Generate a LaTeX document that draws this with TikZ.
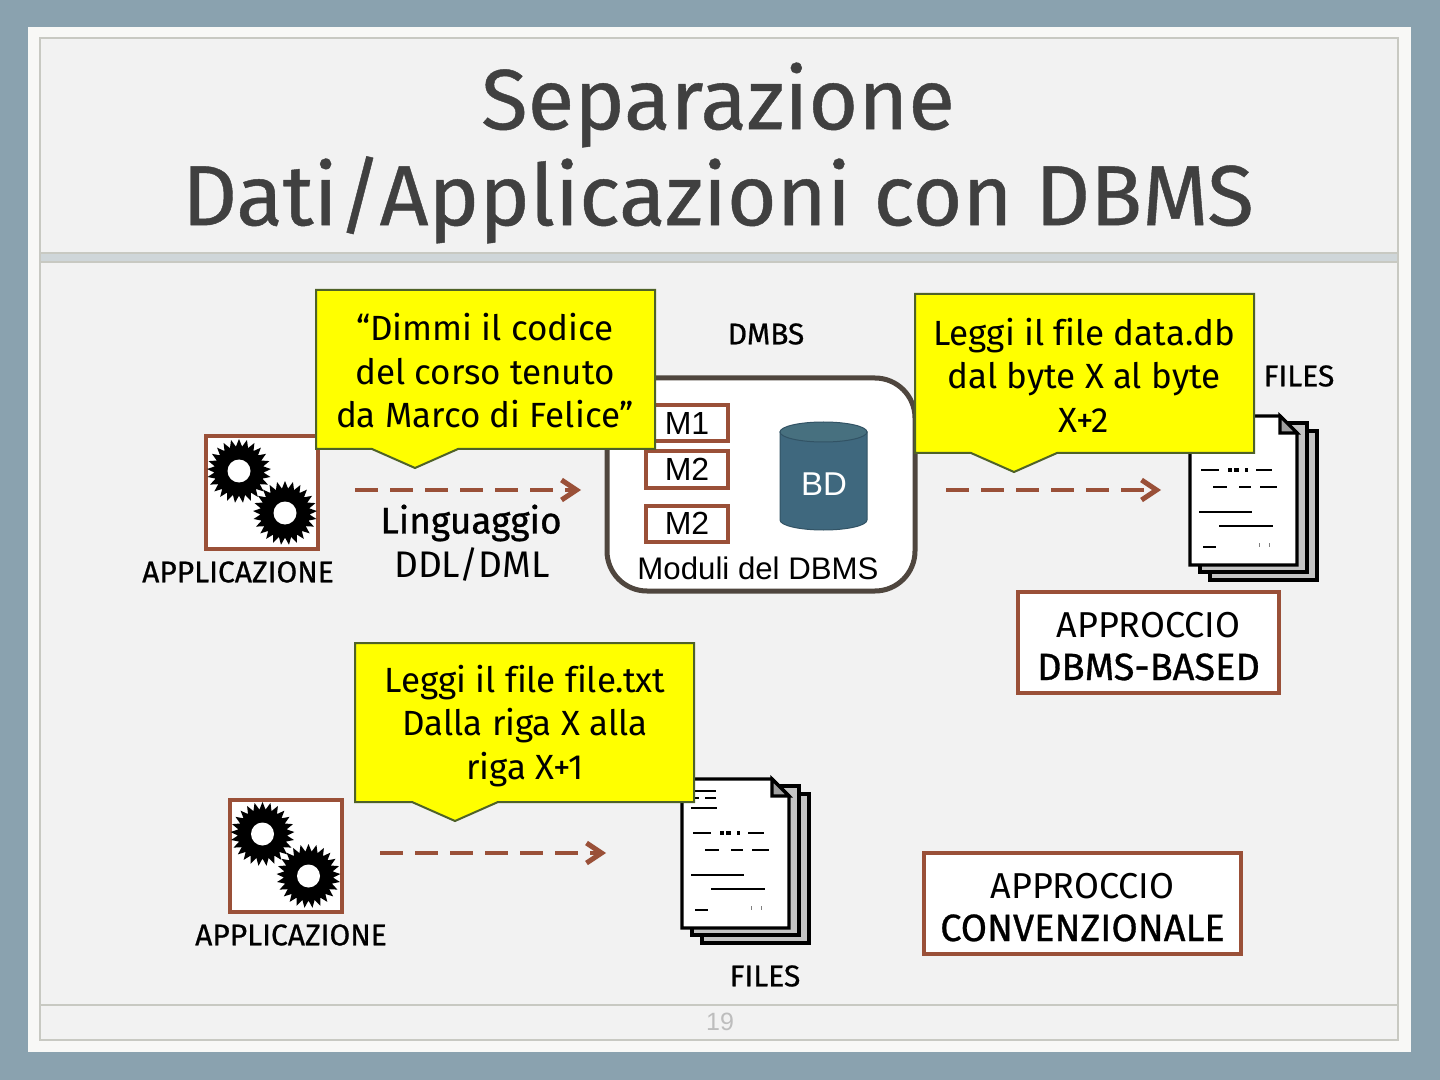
\documentclass[tikz,border=0pt]{standalone}
\usepackage{fontspec}
\setmainfont[Ligatures={TeX,NoCommon}]{Fira Sans}
\newfontfamily\arialfont{Liberation Sans}
\usetikzlibrary{shapes,arrows.meta}

\definecolor{slateback}{HTML}{8AA2AF}
\definecolor{cardedge}{HTML}{F8F8F6}
\definecolor{cardfill}{HTML}{F2F2F2}
\definecolor{cardline}{HTML}{C8C9C2}
\definecolor{bandfill}{HTML}{CFD6D9}
\definecolor{rust}{HTML}{9A5038}
\definecolor{umber}{HTML}{4F463E}
\definecolor{petrol}{HTML}{3F687E}
\definecolor{petroltop}{HTML}{47707F}
\definecolor{titlegrey}{HTML}{404040}
\definecolor{calloutedge}{HTML}{4F6228}
\definecolor{calloutfill}{HTML}{FFFF00}
\definecolor{pagegrey}{HTML}{C4C4C4}
\definecolor{foldgrey}{HTML}{A0A0A0}
\definecolor{numgrey}{HTML}{BDBDBD}

\newcommand{\strongline}{\fontsize{19}{21.75}\selectfont\addfontfeatures{FakeBold=0.8}}
\newcommand{\plainline}[1]{\rule{0pt}{13pt}\raisebox{-3.5pt}{#1}}

\tikzset{
  calloutbox/.style={draw=calloutedge, line width=1pt, fill=calloutfill, line join=miter},
  callouttext/.style={align=center, font=\fontsize{17.5}{21.75}\selectfont, inner sep=0pt},
  modulebox/.style={draw=rust, line width=2pt, fill=white, minimum width=41pt, minimum height=18pt, inner sep=0pt, font=\arialfont\fontsize{16}{18}\selectfont},
  approachbox/.style={draw=rust, line width=2pt, fill=white, align=center, inner sep=0pt, font=\fontsize{18}{21.75}\selectfont},
  smalllabel/.style={font=\fontsize{15}{17}\selectfont\addfontfeatures{FakeBold=0.7}, inner sep=0pt},
  flowline/.style={draw=rust, line width=2pt, dash pattern=on 11.5pt off 6pt, -{Straight Barb[length=7.5pt, width=10pt, line width=2.5pt, sep=4pt]}},
  gearwheel/.style={star, star points=25, star point ratio=1.3, fill=black, inner sep=0pt, minimum size=32pt},
  gearhole/.style={circle, fill=white, inner sep=0pt, minimum size=11.5pt},
  docsheet/.style={draw=black, line width=1.6pt, line join=miter},
  docline/.style={draw=black, line width=1.4pt},
  appicon/.pic={
    \node[draw=rust, line width=2pt, fill=white, minimum width=56pt, minimum height=56pt, inner sep=0pt] (-frame) at (0,0) {};
    \node[gearwheel] (-wheelA) at (-23,-21.5) {};
    \node[gearhole] at (-wheelA) {};
    \node[gearwheel] (-wheelB) at (23,20.5) {};
    \node[gearhole] at (-wheelB) {};
  },
  docstack/.pic={
    \draw[docsheet, fill=pagegrey] (20,15) rectangle (127,164);
    \draw[docsheet, fill=pagegrey] (10,7) rectangle (117,156);
    \draw[docsheet, fill=white] (0,0) -- (90,0) -- (107,17) -- (107,149) -- (0,149) -- cycle;
    \draw[docsheet, fill=foldgrey] (90,0) -- (107,17) -- (90,17) -- cycle;
    \draw[docline] (13,12) -- (34,12) (13,19) -- (17,19) (23,19) -- (34,19) (9,29) -- (35,29);
    \draw[docline] (11,54) -- (29,54) (66,54) -- (82,54);
    \draw[black, line width=2.2pt, dash pattern=on 2.2pt off 0.9pt] (38,54) -- (50,54) (55,54) -- (58,54);
    \draw[docline] (23,71) -- (37,71) (49,71) -- (61,71) (70,71) -- (87,71);
    \draw[docline] (9,96) -- (62,96);
    \draw[docline] (29,110) -- (83,110);
    \draw[docline] (13,131) -- (26,131);
    \draw[black!50, line width=0.3pt] (69,127) -- (69,131) (79,127) -- (79,131);
  }
}

\begin{document}
\begin{tikzpicture}[x=0.5pt, y=-0.5pt]
  \useasboundingbox (0,0) rectangle (1440,1080);
  % slide background
  \fill[slateback] (0,0) rectangle (1440,1080);
  \fill[cardedge] (28,27) rectangle (1411,1052);
  \fill[cardfill] (41,39) rectangle (1397,1040);
  \fill[bandfill] (40,253) rectangle (1398,262);
  \draw[cardline, line width=1pt] (40,38) rectangle (1398,1040);
  \draw[cardline, line width=1pt] (40,253) -- (1398,253);
  \draw[cardline, line width=0.6pt] (40,262) -- (1398,262);
  \draw[cardline, line width=1pt] (40,1005) -- (1398,1005);

  \node[align=center, inner sep=0pt, text=titlegrey, font=\fontsize{42.7}{48}\selectfont\addfontfeatures{FakeBold=0.5}] (slidetitle) at (718,153) {Separazione\\Dati/Applicazioni con DBMS};
  \node[text=numgrey, inner sep=0pt, font=\arialfont\fontsize{12.5}{14}\selectfont] (pagenum) at (720,1022) {19};

  % top row
  \pic (appA) at (262,492.5) {appicon};
  \node[smalllabel] (appAlabel) at (238,572) {APPLICAZIONE};

  \node[draw=umber, line width=2.5pt, fill=white, rounded corners=20pt, minimum width=154pt, minimum height=106.5pt, inner sep=0pt] (dbmsframe) at (761,484.5) {};
  \node[modulebox] (modA) at (687,423.5) {M1};
  \node[modulebox] (modB) at (687,469.5) {M2};
  \node[modulebox] (modC) at (687,523.5) {M2};
  \draw[draw=petrol!80!black, line width=0.5pt, fill=petrol] (780,432) -- (780,520) arc[start angle=180, end angle=0, x radius=43.5, y radius=10] -- (867,432) -- cycle;
  \draw[draw=petrol!80!black, line width=0.5pt, fill=petroltop] (823.5,432) ellipse[x radius=43.5, y radius=10];
  \node[text=white, inner sep=0pt, font=\arialfont\fontsize{16.5}{18}\selectfont] (dbcyltext) at (824,484) {BD};
  \node[inner sep=0pt, font=\arialfont\fontsize{15.6}{18}\selectfont] (dbmscaption) at (758,568) {Moduli del DBMS};
  \node[smalllabel] (dbmslabel) at (766,334) {DMBS};

  \pic at (1190,416) {docstack};
  \node[smalllabel] (filesA) at (1299,376) {FILES};

  \coordinate (flowAstart) at (355,490);
  \coordinate (flowAend) at (589,490);
  \draw[flowline] (flowAstart) -- (flowAend);
  \coordinate (flowBstart) at (946,490);
  \coordinate (flowBend) at (1169,490);
  \draw[flowline] (flowBstart) -- (flowBend);

  \node[inner sep=0pt, font=\fontsize{18.5}{21.75}\selectfont\addfontfeatures{FakeBold=0.8}] (langA) at (471,523) {Linguaggio};
  \node[inner sep=0pt, font=\fontsize{18.5}{21.75}\selectfont] (langB) at (472,564) {DDL/DML};

  \draw[calloutbox] (316,290) -- (655,290) -- (655,449) -- (458,449) -- (415,468) -- (372,449) -- (316,449) -- cycle;
  \node[callouttext] (askA) at (485,371) {``Dimmi il codice\\del corso tenuto\\da Marco di Felice''};
  \draw[calloutbox] (915,294) -- (1254,294) -- (1254,453) -- (1057,453) -- (1014,472) -- (971,453) -- (915,453) -- cycle;
  \node[callouttext] (askB) at (1084,375) {Leggi il file data.db\\dal byte X al byte\\X+2};

  \node[approachbox, minimum width=130.5pt, minimum height=50.5pt] (approachA) at (1148.5,642.5) {\plainline{APPROCCIO}\\[3pt]\strongline DBMS-BASED};

  % bottom row
  \pic (appB) at (285.5,855.5) {appicon};
  \node[smalllabel] (appBlabel) at (291,935) {APPLICAZIONE};

  \pic at (682,779) {docstack};
  \node[smalllabel] (filesB) at (765,976) {FILES};

  \coordinate (flowCstart) at (380,853);
  \coordinate (flowCend) at (614,853);
  \draw[flowline] (flowCstart) -- (flowCend);

  \draw[calloutbox] (355,643) -- (694,643) -- (694,802) -- (498,802) -- (455,821) -- (412,802) -- (355,802) -- cycle;
  \node[callouttext] (askC) at (525,726) {Leggi il file file.txt\\Dalla riga X alla\\riga X+1};

  \node[approachbox, minimum width=158.5pt, minimum height=50.5pt] (approachB) at (1082.5,903.5) {\plainline{APPROCCIO}\\[3pt]\strongline CONVENZIONALE};
\end{tikzpicture}
\end{document}
